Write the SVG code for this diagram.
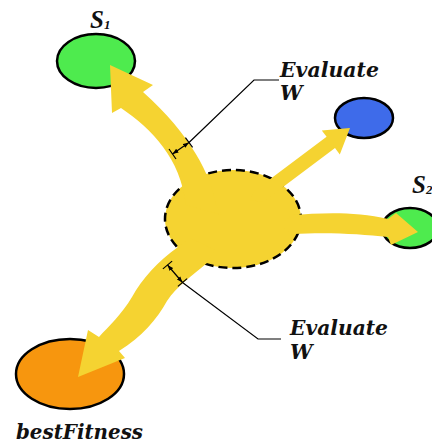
<svg xmlns="http://www.w3.org/2000/svg" width="432" height="445" viewBox="0 0 432 445">
<style>
.node{stroke:#000;stroke-width:2.5}
.flow{fill:#F5D331;stroke:none}
.dim{stroke:#000;stroke-width:1.2;fill:none}
.lbl{font-family:"DejaVu Serif",serif;font-style:italic;font-weight:bold;font-size:20px;fill:#111}
.sym{font-family:"Liberation Serif",serif;font-style:italic;font-weight:bold;font-size:25px;fill:#111}
.sub{font-size:13px}
</style>
<defs>
<marker id="ah" viewBox="0 0 8 6" refX="8" refY="3" markerWidth="6" markerHeight="5" orient="auto-start-reverse" markerUnits="userSpaceOnUse">
<path d="M0,0 L8,3 L0,6 Z" fill="#000"/>
</marker>
</defs>
<rect width="432" height="445" fill="#fff"/>
<g id="S1"><ellipse class="node" cx="96" cy="61" rx="39" ry="27" fill="#4EEB4E"/>
<text class="sym" x="90" y="28">S<tspan class="sub" dy="1">1</tspan></text></g>
<g id="W"><ellipse class="node" cx="364" cy="118" rx="29" ry="20" fill="#3E6BEA"/></g>
<g id="S2"><ellipse class="node" cx="410" cy="228" rx="28" ry="20" fill="#4EEB4E"/>
<text class="sym" x="412" y="193">S<tspan class="sub" dy="1">2</tspan></text></g>
<g id="best"><ellipse class="node" cx="70" cy="374" rx="54" ry="35" fill="#F7960E"/>
<text class="lbl" x="16" y="439" textLength="127" lengthAdjust="spacingAndGlyphs">bestFitness</text></g>
<g id="center"><ellipse cx="233" cy="219" rx="68" ry="49" fill="#F5D331" stroke="#000" stroke-width="2.5" stroke-dasharray="9 5"/></g>
<g id="connectors">
<path class="flow" d="M222,215 L216,205 C211,175 191,135 143,92 L153,85 L110,65 L112,113 L121,108 C153,130 180,158 186,205 Z"/>
<path class="flow" d="M250,200 L254.6,190.8 L326.6,136.8 L321.8,130.4 L350,128 L339.8,154.4 L335,148 L263,202 Z"/>
<path class="flow" d="M280,225 L292,215 C320,213 355,211 388,219 L396,213 L418,232 L391,245 L388,237 C360,234 330,232 292,234 Z"/>
<path class="flow" d="M215,250 L207,263 C192,276 177,286 167,301 C157,319 142,337 119,351 L125,358 L78,377 L88,330 L99,337 C108,327 122,314 132,297 C142,279 158,261 178,247 L190,238 Z"/>
<g id="dim1">
<line class="dim" x1="169" y1="149" x2="176" y2="159"/>
<line class="dim" x1="185.4" y1="137.7" x2="192.6" y2="147.3"/>
<line class="dim" x1="172.5" y1="154" x2="189" y2="142.5" marker-start="url(#ah)" marker-end="url(#ah)"/>
<polyline class="dim" points="189,142.5 254,80 279,80"/>
</g>
<g id="dim2">
<line class="dim" x1="162.9" y1="268.9" x2="172.1" y2="261.1"/>
<line class="dim" x1="177.9" y1="286.4" x2="187.1" y2="278.6"/>
<line class="dim" x1="167.5" y1="265" x2="182.5" y2="282.5" marker-start="url(#ah)" marker-end="url(#ah)"/>
<polyline class="dim" points="182.5,282.5 258,339 281,339"/>
</g>
</g>
<g id="labels">
<text class="lbl" x="280" y="77" textLength="99" lengthAdjust="spacingAndGlyphs">Evaluate</text>
<text class="lbl" x="280" y="100">W</text>
<text class="lbl" x="290" y="335" textLength="98" lengthAdjust="spacingAndGlyphs">Evaluate</text>
<text class="lbl" x="290" y="359">W</text>
</g>
</svg>
